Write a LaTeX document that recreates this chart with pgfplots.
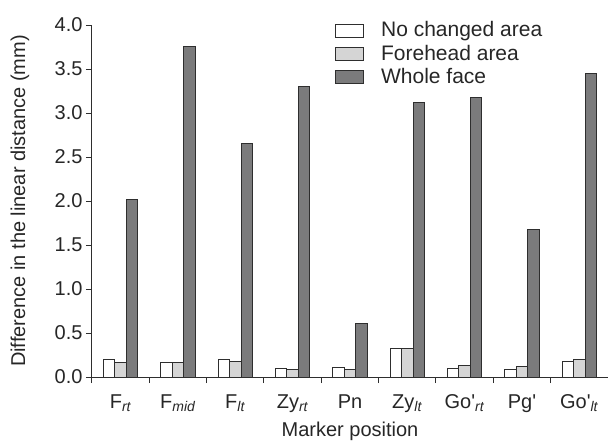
\documentclass[border=0pt]{standalone}
\usepackage{pgfplots}
\pgfplotsset{compat=1.18}
\usepackage{fontspec}
\setmainfont{Liberation Sans}
\definecolor{lg}{HTML}{D5D5D5}
\definecolor{dg}{HTML}{7B7B7C}
\definecolor{ed}{HTML}{2E2E2E}
\newcommand{\tf}{\fontsize{20}{23}\selectfont}
\newcommand{\lf}{\fontsize{21}{24}\selectfont}
\newcommand{\pr}{\textquotesingle}
\begin{document}
\begin{tikzpicture}[font=\tf]
\begin{axis}[
  scale only axis, width=516pt, height=352pt,
  ymin=0, ymax=4, xmin=-0.5, xmax=8.5,
  axis x line*=bottom, axis y line*=left,
  axis line style={ed, line width=1pt, -},
  tick style={ed, line width=1pt},
  tick align=outside, major tick length=6pt,
  ytick={0,0.5,...,4},
  yticklabel style={/pgf/number format/fixed,/pgf/number format/fixed zerofill,/pgf/number format/precision=1, font=\tf, text=black!85},
  /pgf/number format/assume math mode=true,
  xtick={-0.5,0.5,...,7.5},
  xticklabels={F\textsubscript{\textit{rt}}, F\textsubscript{\textit{mid}}, F\textsubscript{\textit{lt}}, Zy\textsubscript{\textit{rt}}, Pn, Zy\textsubscript{\textit{lt}}, Go\pr\textsubscript{\textit{rt}}, Pg\pr, Go\pr\textsubscript{\textit{lt}}},
  xticklabel style={font=\tf, text=black!85, anchor=base, xshift=28.67pt, yshift=-25pt},
  ybar=0pt, bar width=0.2,
  ylabel={Difference in the linear distance (mm)},
  xlabel={Marker position},
  every axis y label/.style={at={(axis description cs:-0.1395,0.5)}, rotate=90, anchor=center, font=\tf, text=black!85},
  every axis x label/.style={at={(axis description cs:0.5,-0.1548)}, anchor=center, font=\tf, text=black!85},
  legend style={draw=none, fill=none, inner sep=0pt, at={(axis description cs:0.471,1.0094)}, anchor=north west,
    nodes={inner sep=0pt, text height=15pt, text depth=4.3pt, text=black!85}, row sep=4pt, column sep=17pt, font=\lf},
  legend cell align=left,
  mylegend/.style={legend image code/.code={\draw[##1, line width=0.9pt] (0pt,-5.5pt) rectangle (28pt,7.5pt);}},
]
\addplot[fill=white, draw=ed, line width=1pt, mylegend] coordinates {(0,0.20) (1,0.17) (2,0.20) (3,0.10) (4,0.11) (5,0.32) (6,0.10) (7,0.09) (8,0.18)};
\addplot[fill=lg, draw=ed, line width=1pt, mylegend] coordinates {(0,0.17) (1,0.17) (2,0.18) (3,0.08) (4,0.09) (5,0.32) (6,0.13) (7,0.12) (8,0.20)};
\addplot[fill=dg, draw=ed, line width=1pt, mylegend] coordinates {(0,2.02) (1,3.76) (2,2.65) (3,3.30) (4,0.61) (5,3.12) (6,3.18) (7,1.68) (8,3.45)};
\legend{No changed area, Forehead area, Whole face}
\end{axis}
\pgfresetboundingbox
\path (current axis.south west) ++(-92pt,-65pt) coordinate (bl);
\path (current axis.south west) ++(516pt,377pt) coordinate (tr);
\path (bl) rectangle (tr);
\end{tikzpicture}
\end{document}
